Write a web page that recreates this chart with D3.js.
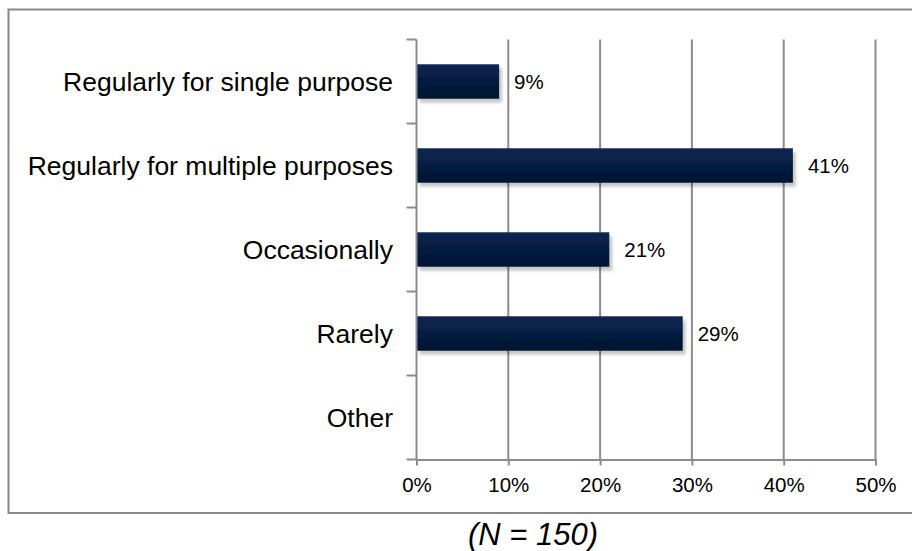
<!DOCTYPE html>
<html>
<head>
<meta charset="utf-8">
<script src="https://cdn.jsdelivr.net/npm/d3@7"></script>
<style>
  html, body { margin: 0; padding: 0; background: #fff; }
  svg { display: block; font-family: "Liberation Sans", Arial, sans-serif; }
</style>
</head>
<body>
<svg id="chart" width="912" height="551"></svg>
<script>
// Survey responses: how often the tool is used
const categories = [
  "Regularly for single purpose",
  "Regularly for multiple purposes",
  "Occasionally",
  "Rarely",
  "Other"
];
const values = [9, 41, 21, 29, null];
const xTicks = [0, 10, 20, 30, 40, 50];
const footnote = "(N = 150)";

const svg = d3.select("#chart");
const plot = { left: 416.5, right: 875.5, top: 39.5, bottom: 459.5 };

// Outer frame (open on the right)
svg.append("path")
  .attr("d", `M913,9.5 H8.5 V513 H913`)
  .attr("fill", "none")
  .attr("stroke", "#888")
  .attr("stroke-width", 2);

const defs = svg.append("defs");
const grad = defs.append("linearGradient")
  .attr("id", "barFill").attr("x1", 0).attr("y1", 0).attr("x2", 0).attr("y2", 1);
grad.append("stop").attr("offset", "0%").attr("stop-color", "#0b2652");
grad.append("stop").attr("offset", "100%").attr("stop-color", "#00132f");

const shadow = defs.append("filter").attr("id", "barShadow")
  .attr("x", "-5%").attr("y", "-20%").attr("width", "115%").attr("height", "160%");
shadow.append("feGaussianBlur").attr("in", "SourceAlpha").attr("stdDeviation", 1.6).attr("result", "b");
shadow.append("feOffset").attr("in", "b").attr("dx", 3).attr("dy", 4).attr("result", "o");
shadow.append("feComponentTransfer").attr("in", "o").attr("result", "s")
  .append("feFuncA").attr("type", "linear").attr("slope", 0.22);
const merge = shadow.append("feMerge");
merge.append("feMergeNode").attr("in", "s");
merge.append("feMergeNode").attr("in", "SourceGraphic");

const x = d3.scaleLinear().domain([0, 50]).range([plot.left, plot.right]);
const y = d3.scaleBand().domain(categories).range([plot.top, plot.bottom])
  .paddingInner(0.59).paddingOuter(0.295);

// Vertical gridlines
svg.append("g").selectAll("line")
  .data(xTicks.slice(1))
  .join("line")
  .attr("x1", d => x(d)).attr("x2", d => x(d))
  .attr("y1", plot.top).attr("y2", plot.bottom)
  .attr("stroke", "#8c8c8c").attr("stroke-width", 2);

// Bars
const rows = categories.map((c, i) => ({ c, v: values[i] })).filter(d => d.v != null);
svg.append("g").selectAll("rect")
  .data(rows)
  .join("rect")
  .attr("x", x(0))
  .attr("y", d => y(d.c))
  .attr("width", d => x(d.v) - x(0))
  .attr("height", y.bandwidth())
  .attr("fill", "url(#barFill)")
  .attr("filter", "url(#barShadow)");

// Value labels
svg.append("g").selectAll("text")
  .data(rows)
  .join("text")
  .attr("x", d => x(d.v) + 15)
  .attr("y", d => y(d.c) + y.bandwidth() / 2)
  .attr("dy", "0.36em")
  .attr("font-size", 20.5)
  .attr("fill", "#000")
  .text(d => d.v + "%");

// Bottom axis
const xAxis = d3.axisBottom(x).tickValues(xTicks).tickFormat(d => d + "%")
  .tickSizeInner(6).tickSizeOuter(0).tickPadding(12);
const gx = svg.append("g").attr("transform", `translate(0,${plot.bottom})`).call(xAxis);
gx.select(".domain").attr("stroke", "#8c8c8c").attr("stroke-width", 2);
gx.selectAll(".tick line").attr("stroke", "#8c8c8c").attr("stroke-width", 2);
gx.selectAll("text").attr("font-size", 20.5).attr("fill", "#000")
  .attr("font-family", "Liberation Sans, Arial, sans-serif");

// Left axis: ticks sit at the category boundaries
svg.append("line")
  .attr("x1", plot.left).attr("x2", plot.left)
  .attr("y1", plot.top).attr("y2", plot.bottom)
  .attr("stroke", "#8c8c8c").attr("stroke-width", 2);
const step = y.step();
const bounds = d3.range(categories.length + 1).map(i => plot.top + i * step);
svg.append("g").selectAll("line")
  .data(bounds)
  .join("line")
  .attr("x1", plot.left - 10).attr("x2", plot.left)
  .attr("y1", d => d).attr("y2", d => d)
  .attr("stroke", "#8c8c8c").attr("stroke-width", 2);

// Category labels
svg.append("g").selectAll("text")
  .data(categories)
  .join("text")
  .attr("x", 393)
  .attr("y", d => y(d) + y.bandwidth() / 2)
  .attr("dy", "0.36em")
  .attr("text-anchor", "end")
  .attr("font-size", 26.5)
  .attr("fill", "#000")
  .text(d => d);

// Sample size note
svg.append("text")
  .attr("x", 533).attr("y", 545)
  .attr("text-anchor", "middle")
  .attr("font-size", 31)
  .attr("font-style", "italic")
  .attr("fill", "#000")
  .text(footnote);
</script>
</body>
</html>
